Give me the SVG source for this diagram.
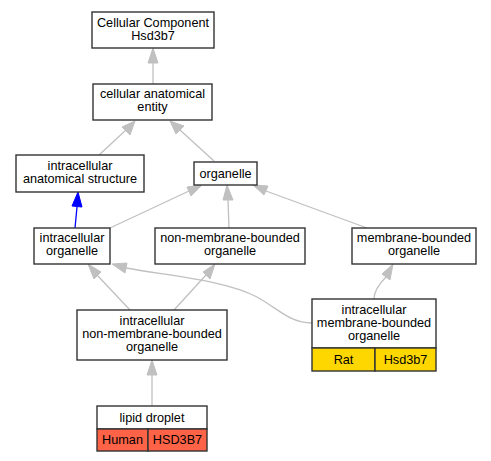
<svg xmlns="http://www.w3.org/2000/svg" width="491" height="461" viewBox="0 0 491 461">
<style>
.n rect{fill:#fff;stroke:#333;stroke-width:1.4}
text{font-family:"Liberation Sans",Arial,sans-serif;font-size:12.7px;fill:#000;text-anchor:middle}
.e path{fill:none;stroke:#c0c0c0;stroke-width:1.3}
.e polygon{fill:#c0c0c0;stroke:#c0c0c0}
.e .b path{stroke:#0000ff}
.e .b polygon{fill:#0000ff;stroke:#0000ff}
</style>
<rect width="491" height="461" fill="#fff"/>
<g id="edges" class="e">
<g><path d="M153,84 L153,63"/><polygon points="153,48 158,63 148,63"/></g>
<g><path d="M99,155 L126,130"/><polygon points="135,121 130,135 122,127"/></g>
<g><path d="M214,161 L180,130"/><polygon points="170,121 184,126 176,134"/></g>
<g class="b"><path d="M75,228 L77,207"/><polygon points="78,192 82,207 72,206"/></g>
<g><path d="M110,228 L189,191"/><polygon points="202,185 191,196 187,187"/></g>
<g><path d="M229,228 L228,200"/><polygon points="227,185 233,200 223,200"/></g>
<g><path d="M367,228 L266,191"/><polygon points="253,185 268,186 264,195"/></g>
<g><path d="M130,310 L97,275"/><polygon points="88,264 101,272 94,279"/></g>
<g><path d="M174,310 L206,275"/><polygon points="215,264 210,279 203,272"/></g>
<g><path d="M312,323 C290,323 280,310 257,297 C225,280 170,276 126,268"/><polygon points="112,264 127,263 125,273"/></g>
<g><path d="M374,299 C374,290 380,283 386,277"/><polygon points="393,264 390,280 382,274"/></g>
<g><path d="M152,406 L152,375"/><polygon points="152,360 157,375 147,375"/></g>
</g>
<g id="n1" class="n"><rect x="92" y="12" width="122" height="36"/><text x="153" y="27">Cellular Component</text><text x="153" y="40">Hsd3b7</text></g>
<g id="n2" class="n"><rect x="93" y="84" width="119" height="36"/><text x="152.5" y="98">cellular anatomical</text><text x="152.5" y="111">entity</text></g>
<g id="n3" class="n"><rect x="16" y="155" width="128" height="37"/><text x="80" y="170">intracellular</text><text x="80" y="183">anatomical structure</text></g>
<g id="n4" class="n"><rect x="194" y="162" width="63" height="23"/><text x="225.5" y="178">organelle</text></g>
<g id="n5" class="n"><rect x="34" y="228" width="76" height="36"/><text x="72" y="242">intracellular</text><text x="72" y="255">organelle</text></g>
<g id="n6" class="n"><rect x="155" y="228" width="150" height="36"/><text x="230" y="242">non-membrane-bounded</text><text x="230" y="255">organelle</text></g>
<g id="n7" class="n"><rect x="352" y="228" width="124" height="36"/><text x="414" y="242">membrane-bounded</text><text x="414" y="255">organelle</text></g>
<g id="n8" class="n"><rect x="77" y="310" width="150" height="50"/><text x="152" y="325">intracellular</text><text x="152" y="338">non-membrane-bounded</text><text x="152" y="351">organelle</text></g>
<g id="n9" class="n"><rect x="312" y="299" width="124" height="49"/><rect x="312" y="348" width="63" height="23" style="fill:#ffd700"/><rect x="375" y="348" width="61" height="23" style="fill:#ffd700"/><text x="374" y="314">intracellular</text><text x="374" y="327">membrane-bounded</text><text x="374" y="340">organelle</text><text x="343.5" y="364">Rat</text><text x="405.5" y="364">Hsd3b7</text></g>
<g id="n10" class="n"><rect x="97" y="406" width="110" height="23"/><rect x="97" y="429" width="51" height="22" style="fill:#ff6347"/><rect x="148" y="429" width="59" height="22" style="fill:#ff6347"/><text x="152" y="422">lipid droplet</text><text x="122.5" y="444">Human</text><text x="177.5" y="444">HSD3B7</text></g>
</svg>
